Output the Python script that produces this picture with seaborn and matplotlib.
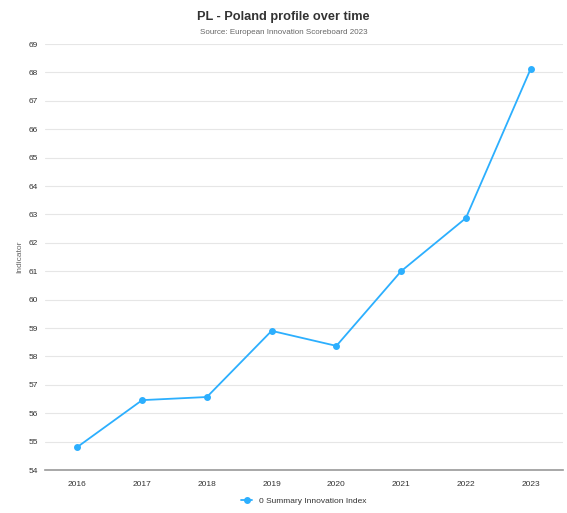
import pandas as pd
import seaborn as sns
import matplotlib.pyplot as plt

years = ['2016', '2017', '2018', '2019', '2020', '2021', '2022', '2023']
sii = [54.81, 56.46, 56.57, 58.9, 58.37, 61.0, 62.87, 68.12]

df = pd.DataFrame({'Year': years, 'Value': sii})

sns.set_theme(style='white')
plt.rcParams['font.family'] = ['Liberation Sans', 'DejaVu Sans']

fig = plt.figure(figsize=(5.67, 5.13), dpi=100)
W, H = 567, 513
ax = fig.add_axes([45 / W, (H - 470) / H, (563 - 45) / W, (470 - 44) / H])

sns.pointplot(data=df, x='Year', y='Value', color='#2caffe', ax=ax,
              markers='o', markersize=4, linewidth=1.3,
              label='0 Summary Innovation Index')

ax.set_xlim(-0.5, len(years) - 0.5)
ax.set_ylim(54, 69)
ax.set_yticks(range(54, 70))
ax.yaxis.grid(True, color='#e6e6e6', linewidth=0.8)
ax.set_axisbelow(True)
for s in ['top', 'right', 'left']:
    ax.spines[s].set_visible(False)
ax.spines['bottom'].set_color('#999999')
ax.spines['bottom'].set_linewidth(1.2)
ax.tick_params(axis='both', length=0, labelsize=6, colors='#333333')
ax.tick_params(axis='x', pad=8)
ax.tick_params(axis='y', pad=12)
for lab in ax.get_yticklabels():
    lab.set_horizontalalignment('left')
ax.set_xlabel('')
ax.set_ylabel('Indicator', fontsize=6, color='#666666')
ax.yaxis.set_label_coords(-22 / 518, 0.5)

fig.text(0.5, 1 - 17 / H, 'PL - Poland profile over time', ha='center',
         va='center', fontsize=9.2, fontweight='bold', color='#333333')
fig.text(0.5, 1 - 32 / H, 'Source: European Innovation Scoreboard 2023',
         ha='center', va='center', fontsize=5.8, color='#666666')

leg = ax.legend(loc='center', bbox_to_anchor=(0.5, -(501 - 470) / (470 - 44)),
                frameon=False, fontsize=6, handlelength=1.3)
for t in leg.get_texts():
    t.set_color('#333333')

fig.savefig('out.png', dpi=100)
